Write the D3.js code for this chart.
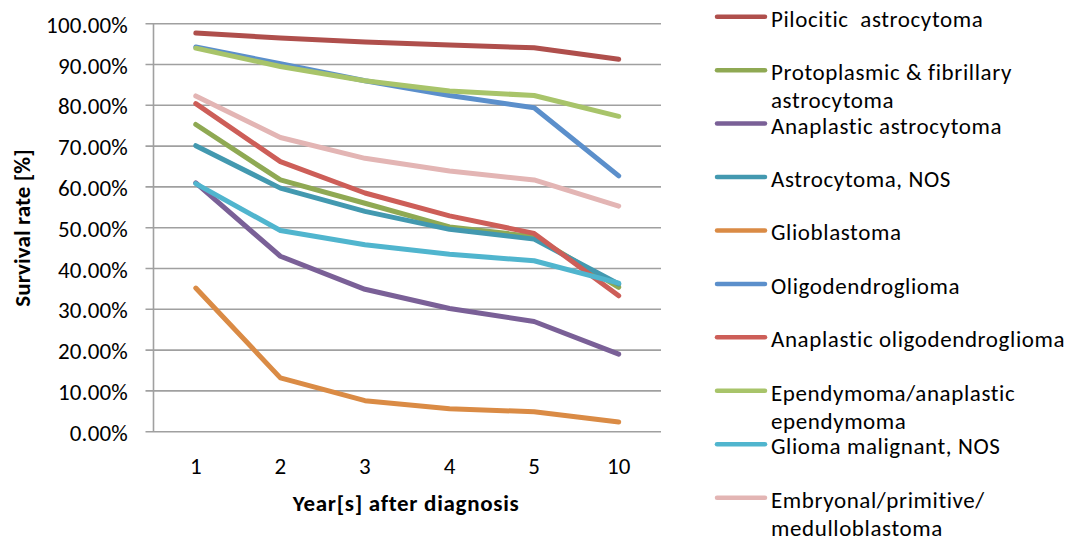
<!DOCTYPE html>
<html>
<head>
<meta charset="utf-8">
<script src="https://cdn.jsdelivr.net/npm/d3@7"></script>
<style>
  body { margin: 0; background: #fff; }
  text { font-family: Carlito, Lato, sans-serif; fill: #000; }
</style>
</head>
<body>
<svg id="chart" width="1078" height="539"></svg>
<script>
// categories on the x axis
const years = ["1", "2", "3", "4", "5", "10"];

// series names (legend text, "\n" splits lines)
const seriesNames = [
    "Pilocitic  astrocytoma",
    "Protoplasmic & fibrillary\nastrocytoma",
    "Anaplastic astrocytoma",
    "Astrocytoma, NOS",
    "Glioblastoma",
    "Oligodendroglioma",
    "Anaplastic oligodendroglioma",
    "Ependymoma/anaplastic\nependymoma",
    "Glioma malignant, NOS",
    "Embryonal/primitive/\nmedulloblastoma"
];

const seriesColors = ["#AF4F4C", "#8FA953", "#7A6097", "#4399B0", "#DA8B45",
                      "#5B8FCB", "#CD5E58", "#A8C46A", "#50B5CE", "#E3B5B4"];

// survival rates (fractions)
const pilocitic      = [0.977, 0.965, 0.955, 0.948, 0.941, 0.913];
const protoplasmic   = [0.753, 0.617, 0.560, 0.502, 0.478, 0.354];
const anaplasticAstro= [0.610, 0.430, 0.349, 0.302, 0.270, 0.190];
const astroNOS       = [0.701, 0.597, 0.540, 0.496, 0.472, 0.362];
const glioblastoma   = [0.352, 0.132, 0.076, 0.056, 0.049, 0.024];
const oligo          = [0.943, 0.902, 0.860, 0.824, 0.794, 0.627];
const anaplasticOligo= [0.804, 0.662, 0.585, 0.529, 0.486, 0.333];
const ependymoma     = [0.940, 0.895, 0.860, 0.835, 0.824, 0.773];
const gliomaMalig    = [0.608, 0.493, 0.458, 0.435, 0.419, 0.364];
const embryonal      = [0.823, 0.721, 0.670, 0.639, 0.617, 0.553];

const seriesValues = [pilocitic, protoplasmic, anaplasticAstro, astroNOS, glioblastoma,
                      oligo, anaplasticOligo, ependymoma, gliomaMalig, embryonal];

const yTicks = [0, 0.1, 0.2, 0.3, 0.4, 0.5, 0.6, 0.7, 0.8, 0.9, 1.0];

const svg = d3.select("#chart");
const plotLeft = 153.5, plotRight = 661, plotTop = 23.7, plotBottom = 431.7;
const fontSize = 23;

let x = d3.scalePoint().domain(years).range([plotLeft, plotRight]).padding(0.5);
let y = d3.scaleLinear().domain([0, 1]).range([plotBottom, plotTop]);

// gridlines (also cover the x axis line)
svg.append("g").selectAll("line").data(yTicks).join("line")
    .attr("x1", plotLeft - 8).attr("x2", plotRight)
    .attr("y1", d => y(d)).attr("y2", d => y(d))
    .attr("stroke", "#A0A0A0").attr("stroke-width", 1.6);

// y axis line
svg.append("line")
    .attr("x1", plotLeft).attr("x2", plotLeft)
    .attr("y1", plotTop).attr("y2", plotBottom)
    .attr("stroke", "#A0A0A0").attr("stroke-width", 1.6);

// y tick labels
const fmt = d3.format(".2%");
svg.append("g").selectAll("text").data(yTicks).join("text")
    .attr("x", 128).attr("y", d => y(d) + 9)
    .attr("text-anchor", "end")
    .style("font-size", fontSize + "px")
    .style("letter-spacing", "0.2px")
    .text(d => fmt(d));

// x tick labels
svg.append("g").selectAll("text").data(years).join("text")
    .attr("x", d => x(d)).attr("y", 473.5)
    .attr("text-anchor", "middle")
    .style("font-size", fontSize + "px")
    .text(d => d);

// axis titles
svg.append("text")
    .attr("x", 406).attr("y", 511)
    .attr("text-anchor", "middle")
    .style("font-size", fontSize + "px").style("font-weight", "bold")
    .style("letter-spacing", "0.7px")
    .text("Year[s] after diagnosis");

svg.append("text")
    .attr("transform", "translate(30,228) rotate(-90)")
    .attr("text-anchor", "middle")
    .style("font-size", fontSize + "px").style("font-weight", "bold")
    .style("letter-spacing", "0.1px")
    .text("Survival rate [%]");

// lines
let line = d3.line()
    .x((d, i) => x(years[i]))
    .y(d => y(d));

svg.append("g").selectAll("path").data(seriesValues).join("path")
    .attr("d", d => line(d))
    .attr("fill", "none")
    .attr("stroke", (d, i) => seriesColors[i])
    .attr("stroke-width", 5)
    .attr("stroke-linejoin", "round")
    .attr("stroke-linecap", "round");

// legend
let legendY = d3.scaleLinear().domain([0, seriesNames.length - 1]).range([16.7, 497.7]);
let items = svg.append("g").selectAll("g").data(seriesNames).join("g")
    .attr("transform", (d, i) => `translate(0,${legendY(i)})`);

items.append("line")
    .attr("x1", 717).attr("x2", 765)
    .attr("y1", 0).attr("y2", 0)
    .attr("stroke", (d, i) => seriesColors[i])
    .attr("stroke-width", 4.5)
    .attr("stroke-linecap", "round");

items.each(function(name){
    let parts = name.split("\n");
    let t = d3.select(this).append("text")
        .attr("x", 771).attr("y", 10)
        .style("font-size", fontSize + "px")
        .style("letter-spacing", "0.6px")
        .style("white-space", "pre");
    parts.forEach((p, k) => {
        t.append("tspan").attr("x", 771).attr("dy", k == 0 ? 0 : 28).text(p);
    });
});
</script>
</body>
</html>
